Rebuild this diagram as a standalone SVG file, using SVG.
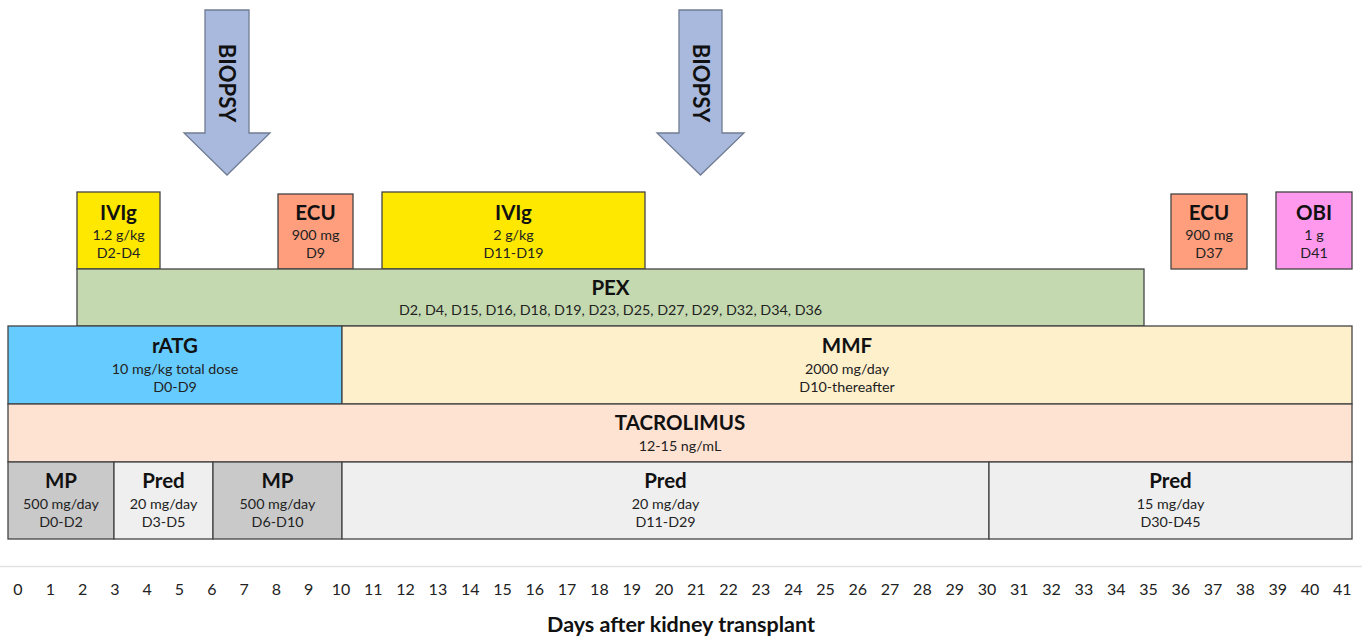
<svg xmlns="http://www.w3.org/2000/svg" width="1365" height="637" viewBox="0 0 1365 637">
<style>
.b{stroke:#444;stroke-width:1.3}
.t{font-family:Lato,"Liberation Sans",sans-serif;font-weight:bold;font-size:20.5px;fill:#111;text-anchor:middle}
.lab{font-family:Lato,"Liberation Sans",sans-serif;font-weight:bold;font-size:21.5px;fill:#111;text-anchor:middle}
.s{font-family:Lato,"Liberation Sans",sans-serif;font-size:14.3px;fill:#222;text-anchor:middle}
.n{font-family:Lato,"Liberation Sans",sans-serif;font-size:16px;fill:#222;text-anchor:middle}
.bx{font-family:Lato,"Liberation Sans",sans-serif;font-weight:bold;font-size:22px;fill:#111;text-anchor:middle}
.arr{fill:#A9B9DD;stroke:#6F7C93;stroke-width:1.3}
</style>
<rect width="1365" height="637" fill="#fff"/>
<g id="biopsy1">
<polygon class="arr" points="205,10 249,10 249,133 270,133 227,175 184,133 205,133"/>
<text class="bx" transform="translate(227,83) rotate(90)" dy="8">BIOPSY</text>
</g>
<g id="biopsy2">
<polygon class="arr" points="679,10 722,10 722,133 744,133 700.5,175 657,133 679,133"/>
<text class="bx" transform="translate(700.5,83) rotate(90)" dy="8">BIOPSY</text>
</g>
<g id="ivig1">
<rect class="b" x="77" y="192" width="83" height="77" fill="#FFE800"/>
<text class="t" x="118.5" y="220">IVIg</text>
<text class="s" x="118.5" y="240">1.2 g/kg</text>
<text class="s" x="118.5" y="258">D2-D4</text>
</g>
<g id="ecu1">
<rect class="b" x="278" y="194" width="75" height="75" fill="#FF9E7D"/>
<text class="t" x="315.5" y="220">ECU</text>
<text class="s" x="315.5" y="240">900 mg</text>
<text class="s" x="315.5" y="258">D9</text>
</g>
<g id="ivig2">
<rect class="b" x="382" y="192" width="263" height="77" fill="#FFE800"/>
<text class="t" x="513.5" y="220">IVIg</text>
<text class="s" x="513.5" y="240">2 g/kg</text>
<text class="s" x="513.5" y="258">D11-D19</text>
</g>
<g id="ecu2">
<rect class="b" x="1171" y="194" width="76" height="75" fill="#FF9E7D"/>
<text class="t" x="1209" y="220">ECU</text>
<text class="s" x="1209" y="240">900 mg</text>
<text class="s" x="1209" y="258">D37</text>
</g>
<g id="obi">
<rect class="b" x="1276" y="192" width="76" height="77" fill="#FF99EE"/>
<text class="t" x="1314" y="220">OBI</text>
<text class="s" x="1314" y="240">1 g</text>
<text class="s" x="1314" y="258">D41</text>
</g>
<g id="pex">
<rect class="b" x="77" y="269" width="1067" height="57" fill="#C4D9B0"/>
<text class="t" x="610.5" y="295">PEX</text>
<text class="s" x="610.5" y="315">D2, D4, D15, D16, D18, D19, D23, D25, D27, D29, D32, D34, D36</text>
</g>
<g id="ratg">
<rect class="b" x="8" y="326" width="334" height="78" fill="#66CCFF"/>
<text class="t" x="175" y="353">rATG</text>
<text class="s" x="175" y="374">10 mg/kg total dose</text>
<text class="s" x="175" y="392">D0-D9</text>
</g>
<g id="mmf">
<rect class="b" x="342" y="326" width="1010" height="78" fill="#FFF0CC"/>
<text class="t" x="847" y="353">MMF</text>
<text class="s" x="847" y="374">2000 mg/day</text>
<text class="s" x="847" y="392">D10-thereafter</text>
</g>
<g id="tacrolimus">
<rect class="b" x="8" y="404" width="1344" height="58" fill="#FEE2D2"/>
<text class="t" x="680" y="430">TACROLIMUS</text>
<text class="s" x="680" y="451">12-15 ng/mL</text>
</g>
<g id="mp1">
<rect class="b" x="8" y="462" width="106" height="77" fill="#C9C9C9"/>
<text class="t" x="61" y="488">MP</text>
<text class="s" x="61" y="509">500 mg/day</text>
<text class="s" x="61" y="527">D0-D2</text>
</g>
<g id="pred1">
<rect class="b" x="114" y="462" width="99" height="77" fill="#EFEFEF"/>
<text class="t" x="163.5" y="488">Pred</text>
<text class="s" x="163.5" y="509">20 mg/day</text>
<text class="s" x="163.5" y="527">D3-D5</text>
</g>
<g id="mp2">
<rect class="b" x="213" y="462" width="129" height="77" fill="#C9C9C9"/>
<text class="t" x="277.5" y="488">MP</text>
<text class="s" x="277.5" y="509">500 mg/day</text>
<text class="s" x="277.5" y="527">D6-D10</text>
</g>
<g id="pred2">
<rect class="b" x="342" y="462" width="647" height="77" fill="#EFEFEF"/>
<text class="t" x="665.5" y="488">Pred</text>
<text class="s" x="665.5" y="509">20 mg/day</text>
<text class="s" x="665.5" y="527">D11-D29</text>
</g>
<g id="pred3">
<rect class="b" x="989" y="462" width="363" height="77" fill="#EFEFEF"/>
<text class="t" x="1170.5" y="488">Pred</text>
<text class="s" x="1170.5" y="509">15 mg/day</text>
<text class="s" x="1170.5" y="527">D30-D45</text>
</g>
<g id="connectors"></g>
<g id="axis">
<line x1="0" y1="566.5" x2="1362" y2="566.5" stroke="#E2E2E2" stroke-width="1.5"/>
<text class="n" y="595"><tspan x="18">0</tspan><tspan x="50.3">1</tspan><tspan x="82.6">2</tspan><tspan x="114.9">3</tspan><tspan x="147.2">4</tspan><tspan x="179.5">5</tspan><tspan x="211.8">6</tspan><tspan x="244.1">7</tspan><tspan x="276.4">8</tspan><tspan x="308.7">9</tspan><tspan x="341">10</tspan><tspan x="373.3">11</tspan><tspan x="405.6">12</tspan><tspan x="437.9">13</tspan><tspan x="470.2">14</tspan><tspan x="502.5">15</tspan><tspan x="534.8">16</tspan><tspan x="567.1">17</tspan><tspan x="599.4">18</tspan><tspan x="631.7">19</tspan><tspan x="664">20</tspan><tspan x="696.3">21</tspan><tspan x="728.6">22</tspan><tspan x="760.9">23</tspan><tspan x="793.2">24</tspan><tspan x="825.5">25</tspan><tspan x="857.8">26</tspan><tspan x="890.1">27</tspan><tspan x="922.4">28</tspan><tspan x="954.7">29</tspan><tspan x="987">30</tspan><tspan x="1019.3">31</tspan><tspan x="1051.6">32</tspan><tspan x="1083.9">33</tspan><tspan x="1116.2">34</tspan><tspan x="1148.5">35</tspan><tspan x="1180.8">36</tspan><tspan x="1213.1">37</tspan><tspan x="1245.4">38</tspan><tspan x="1277.7">39</tspan><tspan x="1310">40</tspan><tspan x="1342.3">41</tspan></text>
<text class="lab" x="681" y="632">Days after kidney transplant</text>
</g>
</svg>
